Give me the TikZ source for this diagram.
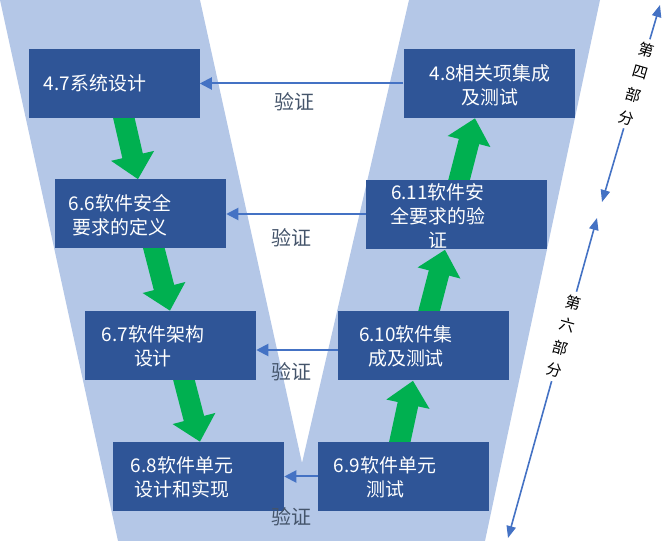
\documentclass[tikz,border=0pt]{standalone}
\usepackage{fontspec}
\setmainfont{Noto Sans CJK SC}
\usetikzlibrary{arrows.meta,calc,backgrounds}
\definecolor{vband}{HTML}{B4C7E7}
\definecolor{boxblue}{HTML}{2F5597}
\definecolor{arrgreen}{HTML}{00B050}
\definecolor{linkblue}{HTML}{4472C4}
\definecolor{labgray}{HTML}{44546A}
\begin{document}
\begin{tikzpicture}[x=0.75pt,y=-0.75pt,
  stage/.style={fill=boxblue, draw=none, inner sep=0pt, minimum width=128.25pt, minimum height=51.75pt},
  stagetext/.style={text=white, align=center, font=\fontsize{14.2}{18}\selectfont, inner sep=0pt},
  flow/.style={draw=arrgreen, line width=15.75pt, line cap=butt, -{Triangle[width=32pt,length=18pt]}},
  verify/.style={draw=linkblue, line width=1.5pt, -{Triangle[width=9pt,length=9pt]}},
  veriflabel/.style={text=labgray, font=\fontsize{15}{18}\selectfont, inner sep=0pt},
  part/.style={draw=linkblue, line width=1.2pt, {Triangle[width=7pt,length=9pt]}-{Triangle[width=7pt,length=9pt]}},
  parttext/.style={fill=white, align=center, font=\fontsize{11.5}{17.6}\selectfont, inner sep=3pt}
]
\useasboundingbox (0,0) rectangle (669,545);

% boxes
\node[stage] (b47) at (114,83.5) {};
\node[stage] (b66) at (140.5,214) {};
\node[stage] (b67) at (170.5,345.5) {};
\node[stage] (b68) at (198.5,476.5) {};
\node[stage] (b48) at (489,83.5) {};
\node[stage, minimum width=135.75pt] (b611) at (456.5,215) {};
\node[stage] (b610) at (423.5,346) {};
\node[stage] (b69) at (403.5,476.5) {};

% box texts
\node[stagetext] (t47) at (95,83.5) {4.7系统设计};
\node[stagetext] (t66) at (120,215) {6.6软件安全\\要求的定义};
\node[stagetext] (t67) at (153,346) {6.7软件架构\\设计};
\node[stagetext] (t68) at (182,477) {6.8软件单元\\设计和实现};
\node[stagetext] (t48) at (490,85) {4.8相关项集成\\及测试};
\node[stagetext] (t611) at (438,216) {6.11软件安\\全要求的验\\证};
\node[stagetext] (t610) at (406,346) {6.10软件集\\成及测试};
\node[stagetext] (t69) at (385,477) {6.9软件单元\\测试};

\begin{scope}[on background layer]
  \fill[vband] (0,0) -- (200,0) -- (302,463) -- (409,0) -- (600,0) -- (485,541) -- (118,541) -- cycle;
  \draw[flow] ($(b47.south)+(9,-4)$) -- ($(b66.north)+(-2.5,0)$);
  \draw[flow] ($(b66.south)+(12.5,-4)$) -- ($(b67.north)+(-0.5,0)$);
  \draw[flow] ($(b67.south)+(12.5,-4)$) -- ($(b68.north)+(1.5,0)$);
  \draw[flow] ($(b69.north)+(-4.5,4)$) -- ($(b610.south)+(-10.5,0)$);
  \draw[flow] ($(b610.north)+(4.5,4)$) -- ($(b611.south)+(-11.5,0)$);
  \draw[flow] ($(b611.north)+(1.5,4)$) -- ($(b48.south)+(-14,0)$);
\end{scope}

% verification connectors
\draw[verify] (b48.west) -- (b47.east);
\draw[verify] ($(b611.west)+(0,-1)$) -- (b66.east);
\draw[verify] ($(b610.west)+(0,4)$) -- ($(b67.east)+(0,4.5)$);
\draw[verify] (b69.west) -- (b68.east);
\node[veriflabel] (v1) at (294,102) {验证};
\node[veriflabel] (v2) at (291,238) {验证};
\node[veriflabel] (v3) at (291,372) {验证};
\node[veriflabel] (v4) at (291,517) {验证};

% part ranges
\coordinate (p4top) at (660,5);
\coordinate (p4bot) at (602,202);
\coordinate (p6top) at (597,218);
\coordinate (p6bot) at (508,538);
\draw[part] (p4top) -- (p4bot) node[parttext, pos=0.4, rotate=-16.4] (s4) {第\\四\\部\\分};
\draw[part] (p6top) -- (p6bot) node[parttext, pos=0.37, rotate=-15.5] (s6) {第\\六\\部\\分};
\end{tikzpicture}
\end{document}
